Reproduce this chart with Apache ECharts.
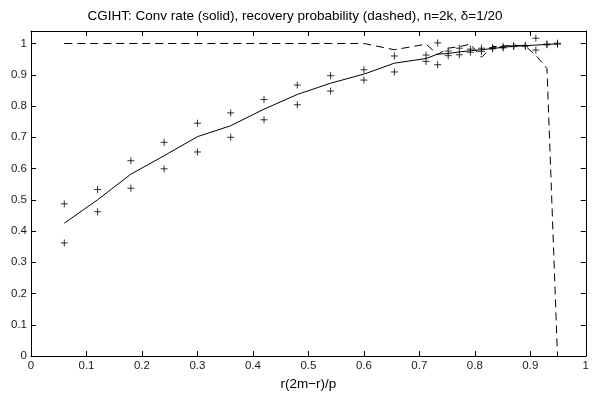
<!DOCTYPE html>
<html>
<head>
<meta charset="utf-8">
<script src="https://cdn.jsdelivr.net/npm/echarts@6/dist/echarts.min.js"></script>
<style>
  html, body { margin: 0; padding: 0; background: #fff; }
  #chart { width: 592px; height: 396px; }
</style>
</head>
<body>
<div id="chart"></div>
<script>
// x = r(2m-r)/p
const ratios = [0.06, 0.12, 0.18, 0.24, 0.30, 0.36, 0.42, 0.48, 0.54, 0.60, 0.655,
  0.712, 0.733, 0.752, 0.772, 0.792, 0.812, 0.832, 0.851, 0.870, 0.891, 0.910, 0.930, 0.949];

// convergence rate, mean (solid)
const convMean = [0.425, 0.500, 0.582, 0.641, 0.702, 0.737, 0.790, 0.837, 0.873, 0.902, 0.937,
  0.952, 0.966, 0.968, 0.973, 0.977, 0.980, 0.984, 0.988, 0.991, 0.993, 0.995, 0.997, 0.999];

// convergence rate, spread markers (+)
const convHi = [0.487, 0.533, 0.625, 0.684, 0.745, 0.778, 0.821, 0.867, 0.897, 0.916, 0.960,
  0.963, 1.002, 0.976, 0.985, 0.982, 0.985, 0.987, 0.990, 0.993, 0.994, 1.017, 0.998, 1.001];
const convLo = [0.362, 0.462, 0.537, 0.599, 0.653, 0.700, 0.756, 0.804, 0.848, 0.883, 0.909,
  0.943, 0.932, 0.961, 0.964, 0.972, 0.975, 0.983, 0.986, 0.990, 0.991, 0.979, 0.996, 0.998];

// recovery probability (dashed)
const recovery = [1, 1, 1, 1, 1, 1, 1, 1, 1, 1, 0.980,
  0.998, 0.965, 0.985, 0.990, 0.998, 0.956, 0.990, 0.992, 0.995, 0.992, 0.962, 0.920, 0];

const xTicks = [0, 0.1, 0.2, 0.3, 0.4, 0.5, 0.6, 0.7, 0.8, 0.9, 1];

const pair = (ys) => ratios.map((x, i) => [x, ys[i]]);

const FONT = "Liberation Sans, Helvetica, Arial, sans-serif";
const PLUS = "path://M5,0L5,10M0,5L10,5";

const tickFmt = (v) => (v > 1.001 ? "" : String(+v.toFixed(1)));

const xBase = {
  type: "value",
  min: xTicks[0],
  max: xTicks[xTicks.length - 1],
  interval: 0.1,
  splitLine: { show: false },
  axisLine: { show: true, onZero: false, lineStyle: { color: "#000", width: 1 } },
  axisTick: { show: true, inside: true, length: 5, lineStyle: { color: "#000" } },
};
const yBase = {
  type: "value",
  min: 0,
  max: 1.04,
  interval: 0.1,
  splitLine: { show: false },
  axisLine: { show: true, onZero: false, lineStyle: { color: "#000", width: 1 } },
  axisTick: { show: true, inside: true, length: 5, lineStyle: { color: "#000" } },
};

const chart = echarts.init(document.getElementById("chart"), null, { renderer: "canvas" });
chart.setOption({
  animation: false,
  backgroundColor: "#fff",
  textStyle: { fontFamily: FONT },
  title: {
    text: "CGIHT: Conv rate (solid), recovery probability (dashed), n=2k, \u03b4=1/20",
    left: 290,
    top: 4,
    textAlign: "center",
    textStyle: { fontFamily: FONT, fontSize: 13.5, fontWeight: "normal", color: "#000" },
  },
  grid: { left: 31, right: 1, top: 31, bottom: 29, containLabel: false },
  xAxis: [
    Object.assign({}, xBase, {
      position: "bottom",
      name: "r(2m\u2212r)/p",
      nameLocation: "middle",
      nameGap: 16,
      nameTextStyle: { fontFamily: FONT, fontSize: 13.5, color: "#000" },
      axisLabel: { fontFamily: FONT, fontSize: 11.5, color: "#222", margin: 4, formatter: tickFmt },
    }),
    Object.assign({}, xBase, { position: "top", axisLabel: { show: false } }),
  ],
  yAxis: [
    Object.assign({}, yBase, {
      position: "left",
      axisLabel: { fontFamily: FONT, fontSize: 11.5, color: "#222", margin: 4, formatter: tickFmt },
    }),
    Object.assign({}, yBase, { position: "right", axisLabel: { show: false } }),
  ],
  series: [
    {
      name: "conv rate",
      type: "line",
      data: pair(convMean),
      showSymbol: false,
      lineStyle: { color: "#000", width: 1 },
      z: 3,
    },
    {
      name: "recovery",
      type: "line",
      data: pair(recovery),
      showSymbol: false,
      lineStyle: { color: "#000", width: 1, type: [8, 5] },
      z: 2,
    },
    {
      name: "hi",
      type: "scatter",
      data: pair(convHi),
      symbol: PLUS,
      symbolSize: 7,
      itemStyle: { color: "rgba(0,0,0,0)", borderColor: "#000", borderWidth: 1 },
      z: 4,
    },
    {
      name: "lo",
      type: "scatter",
      data: pair(convLo),
      symbol: PLUS,
      symbolSize: 7,
      itemStyle: { color: "rgba(0,0,0,0)", borderColor: "#000", borderWidth: 1 },
      z: 4,
    },
  ],
});
</script>
</body>
</html>
